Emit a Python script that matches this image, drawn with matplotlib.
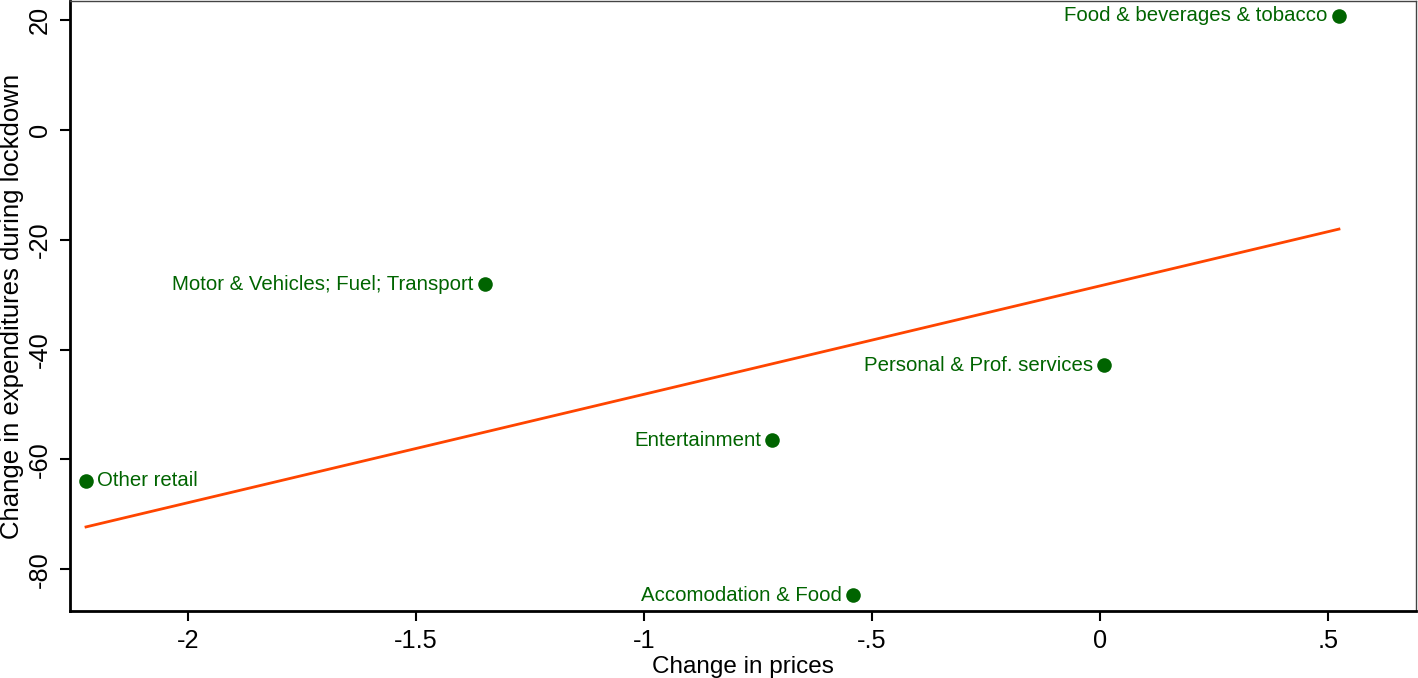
import matplotlib.pyplot as plt
import numpy as np

plt.rcParams['font.family'] = ['Liberation Sans', 'DejaVu Sans']

# sectors: change in prices vs change in expenditures during lockdown
sectors = ['Food & beverages & tobacco', 'Motor & Vehicles; Fuel; Transport',
           'Personal & Prof. services', 'Entertainment', 'Other retail',
           'Accomodation & Food']
price_change = [0.524, -1.349, 0.009, -0.719, -2.224, -0.542]
spend_change = [20.8, -28.1, -42.8, -56.5, -63.9, -84.7]
label_side = ['left', 'left', 'left', 'left', 'right', 'left']

x_ticks = [-2, -1.5, -1, -0.5, 0, 0.5]
x_ticklabels = ['-2', '-1.5', '-1', '-.5', '0', '.5']
y_ticks = [-80, -60, -40, -20, 0, 20]

green = '#006400'
fit_color = '#FF4500'

fig = plt.figure(figsize=(14.18, 6.78), dpi=100)
ax = fig.add_axes([0.0494, 0.0988, 0.9492, 0.8997])

x = np.array(price_change)
y = np.array(spend_change)
ax.scatter(x, y, s=110, color=green, zorder=3, linewidths=0)

for name, xi, yi, side in zip(sectors, x, y, label_side):
    if side == 'left':
        ax.annotate(name, (xi, yi), xytext=(-8, 0), textcoords='offset points',
                    ha='right', va='center', color=green, fontsize=14.7)
    else:
        ax.annotate(name, (xi, yi), xytext=(8, 0), textcoords='offset points',
                    ha='left', va='center', color=green, fontsize=14.7)

# linear fit across the observed range
slope, intercept = np.polyfit(x, y, 1)
xs = np.array([x.min(), x.max()])
ax.plot(xs, intercept + slope * xs, color=fit_color, lw=2, zorder=2)

ax.set_xlim(-2.259, 0.693)
ax.set_ylim(-87.6, 23.5)
ax.set_xticks(x_ticks)
ax.set_xticklabels(x_ticklabels)
ax.set_yticks(y_ticks)
ax.set_yticklabels([str(v) for v in y_ticks], rotation=90, va='center')
ax.tick_params(direction='out', length=7, width=1.5, labelsize=18.3, pad=6)

for side in ['left', 'bottom']:
    ax.spines[side].set_linewidth(2)
    ax.spines[side].set_color('black')
for side in ['top', 'right']:
    ax.spines[side].set_linewidth(1)
    ax.spines[side].set_color('#444444')

ax.set_xlabel('Change in prices', fontsize=17.5, labelpad=2)
ax.set_ylabel('Change in expenditures during lockdown', fontsize=18.5, labelpad=3)

fig.savefig('out.png', dpi=100)
